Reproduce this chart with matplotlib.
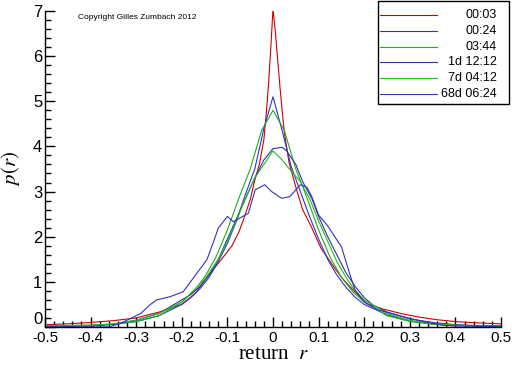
import matplotlib

matplotlib.use("Agg")
import matplotlib.pyplot as plt
from matplotlib.lines import Line2D
from matplotlib.patches import Rectangle
from matplotlib.ticker import MultipleLocator

plt.rcParams["font.family"] = ["Liberation Sans", "DejaVu Sans"]
plt.rcParams["mathtext.fontset"] = "stix"

# return r -> p(r), one series per time horizon
labels = ["00:03", "00:24", "03:44", "1d 12:12", "7d 04:12", "68d 06:24"]
colors = ["#cc0000", "#3333cc", "#22aa22", "#333399", "#22bb22", "#3333bb"]
x_ticks = [-0.5, -0.4, -0.3, -0.2, -0.1, 0, 0.1, 0.2, 0.3, 0.4, 0.5]
x_tick_labels = ["-0.5", "-0.4", "-0.3", "-0.2", "-0.1", "0", "0.1", "0.2", "0.3", "0.4", "0.5"]
y_ticks = [0, 1, 2, 3, 4, 5, 6, 7]

r_0003 = [-0.50, -0.45, -0.40, -0.35, -0.30, -0.25, -0.20, -0.17, -0.145, -0.125,
          -0.105, -0.09, -0.075, -0.065, -0.05, -0.04, -0.03, -0.02, -0.015, -0.01,
          -0.005, 0.0, 0.005, 0.01, 0.015, 0.02, 0.025, 0.035, 0.05, 0.065,
          0.085, 0.105, 0.13, 0.15, 0.17, 0.205, 0.24, 0.28, 0.32, 0.36,
          0.40, 0.45, 0.50]
p_0003 = [0.05, 0.07, 0.10, 0.14, 0.20, 0.33, 0.50, 0.75, 1.10, 1.35,
          1.60, 1.80, 2.10, 2.37, 2.82, 3.25, 3.60, 4.15, 4.70, 5.35,
          6.15, 7.05, 6.55, 5.95, 5.35, 4.80, 4.30, 3.65, 3.10, 2.60,
          2.20, 1.75, 1.38, 1.10, 0.88, 0.52, 0.40, 0.30, 0.22, 0.16,
          0.12, 0.09, 0.07]

r_0024 = [-0.50, -0.45, -0.40, -0.35, -0.30, -0.25, -0.20, -0.18, -0.16, -0.14,
          -0.12, -0.10, -0.08, -0.06, -0.04, -0.02, 0.0, 0.02, 0.04, 0.06,
          0.08, 0.10, 0.12, 0.14, 0.16, 0.18, 0.20, 0.25, 0.30, 0.35,
          0.40, 0.45, 0.50]
p_0024 = [0.01, 0.02, 0.03, 0.06, 0.12, 0.25, 0.50, 0.65, 0.85, 1.10,
          1.45, 1.85, 2.35, 2.95, 3.50, 4.40, 5.10, 4.35, 3.55, 3.00,
          2.45, 1.95, 1.50, 1.15, 0.88, 0.66, 0.50, 0.27, 0.14, 0.07,
          0.04, 0.02, 0.01]

r_0344 = [-0.50, -0.40, -0.35, -0.30, -0.25, -0.20, -0.175, -0.15, -0.125, -0.10,
          -0.075, -0.05, -0.025, 0.0, 0.025, 0.05, 0.075, 0.10, 0.125, 0.15,
          0.175, 0.20, 0.25, 0.30, 0.35, 0.40, 0.50]
p_0344 = [0.03, 0.04, 0.06, 0.12, 0.25, 0.55, 0.78, 1.10, 1.55, 2.15,
          2.85, 3.50, 4.35, 4.80, 4.35, 3.50, 2.85, 2.15, 1.55, 1.10,
          0.78, 0.55, 0.25, 0.12, 0.06, 0.04, 0.02]

r_1d = [-0.50, -0.40, -0.35, -0.30, -0.25, -0.20, -0.18, -0.16, -0.14, -0.12,
        -0.10, -0.08, -0.06, -0.04, -0.02, 0.0, 0.02, 0.03, 0.05, 0.065,
        0.085, 0.10, 0.12, 0.14, 0.16, 0.18, 0.20, 0.22, 0.25, 0.30,
        0.35, 0.40, 0.45, 0.50]
p_1d = [0.00, 0.02, 0.06, 0.15, 0.30, 0.60, 0.72, 0.90, 1.15, 1.50,
        1.95, 2.40, 2.85, 3.30, 3.70, 3.95, 3.98, 3.90, 3.60, 3.22,
        2.85, 2.45, 2.00, 1.60, 1.20, 0.90, 0.65, 0.48, 0.33, 0.18,
        0.10, 0.05, 0.03, 0.02]

r_7d = [-0.50, -0.40, -0.35, -0.30, -0.25, -0.20, -0.15, -0.12, -0.10, -0.08,
        -0.065, -0.04, -0.02, 0.0, 0.02, 0.04, 0.06, 0.08, 0.10, 0.12,
        0.14, 0.16, 0.18, 0.20, 0.25, 0.30, 0.35, 0.40, 0.45, 0.50]
p_7d = [0.02, 0.04, 0.07, 0.15, 0.30, 0.55, 1.05, 1.50, 1.90, 2.35,
        2.75, 3.30, 3.60, 3.90, 3.70, 3.45, 3.22, 2.85, 2.35, 1.90,
        1.45, 1.10, 0.80, 0.60, 0.30, 0.14, 0.07, 0.04, 0.02, 0.02]

r_68d = [-0.50, -0.36, -0.335, -0.31, -0.29, -0.27, -0.255, -0.226, -0.197, -0.167,
         -0.145, -0.13, -0.12, -0.10, -0.087, -0.075, -0.054, -0.039, -0.018, -0.003,
         0.019, 0.037, 0.06, 0.074, 0.085, 0.10, 0.12, 0.14, 0.15, 0.17,
         0.18, 0.20, 0.23, 0.26, 0.30, 0.33, 0.37, 0.40, 0.50]
p_68d = [0.00, 0.00, 0.08, 0.20, 0.30, 0.49, 0.60, 0.67, 0.78, 1.19,
         1.49, 1.90, 2.19, 2.45, 2.33, 2.40, 2.52, 3.04, 3.15, 3.00,
         2.85, 2.89, 3.15, 3.10, 2.89, 2.48, 2.24, 1.93, 1.78, 1.12,
         0.82, 0.56, 0.38, 0.30, 0.19, 0.12, 0.04, 0.02, 0.01]

series = [(r_0003, p_0003), (r_0024, p_0024), (r_0344, p_0344),
          (r_1d, p_1d), (r_7d, p_7d), (r_68d, p_68d)]

fig = plt.figure(figsize=(5.12, 3.66), dpi=100, facecolor="white")
ax = fig.add_axes([0.0879, 0.1066, 0.8906, 0.8634])

for (xs, ys), col in zip(series, colors):
    ax.plot(xs, ys, color=col, linewidth=0.8)

ax.set_xlim(-0.5, 0.5)
ax.set_ylim(0, 7)
ax.set_xticks(x_ticks, x_tick_labels)
ax.set_yticks(y_ticks, [str(v) for v in y_ticks])
ax.xaxis.set_minor_locator(MultipleLocator(0.02))
ax.yaxis.set_minor_locator(MultipleLocator(0.2))
ax.tick_params(which="major", direction="in", length=7, width=1, labelsize=11, pad=3)
ax.tick_params(which="minor", direction="in", length=4, width=1)
ax.tick_params(axis="y", labelsize=12, pad=2)

# the "0" on the y axis sits just above the "-0.5", as in the original
ax.yaxis.get_major_ticks()[0].label1.set_verticalalignment("bottom")

for spine in ("top", "right"):
    ax.spines[spine].set_visible(False)
for spine in ("left", "bottom"):
    ax.spines[spine].set_linewidth(1)

ax.set_xlabel("return  $r$", family="Liberation Serif", fontsize=15, labelpad=0)
ax.set_ylabel("$p(r)$", fontsize=15, labelpad=8)

fig.text(0.152, 0.953, "Copyright Gilles Zumbach 2012", fontsize=6,
         family="Liberation Sans", ha="left", va="center")

# legend box drawn in figure pixels
W, H = 512, 366
fig.add_artist(Rectangle((378 / W, 1 - 104 / H), 131 / W, 103 / H,
                         transform=fig.transFigure, facecolor="white",
                         edgecolor="black", linewidth=1, zorder=5))
for i, (lab, col) in enumerate(zip(labels, colors)):
    yy = 1 - (15 + i * 15.8) / H
    fig.add_artist(Line2D([380 / W, 437 / W], [yy, yy], transform=fig.transFigure,
                          color=col, linewidth=0.8, zorder=6))
    fig.text(497 / W, yy, lab, fontsize=9, ha="right", va="center", zorder=6)

fig.savefig("out.png", dpi=100, facecolor="white")
